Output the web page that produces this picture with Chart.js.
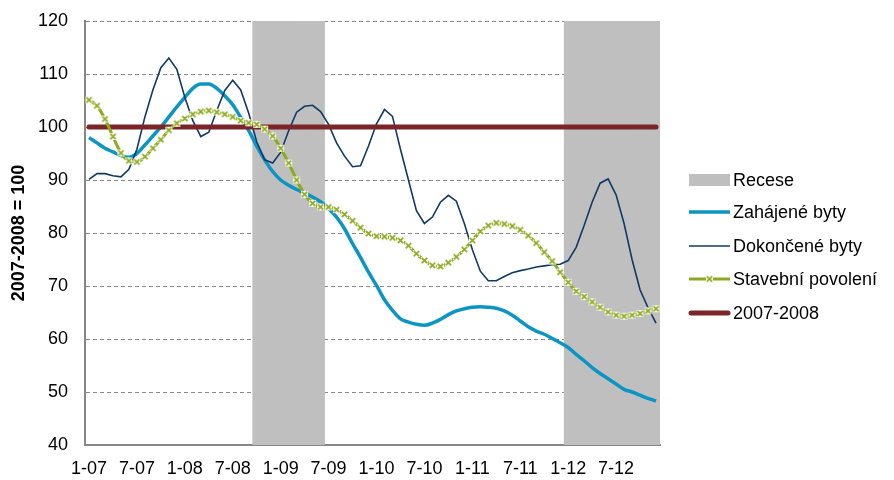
<!DOCTYPE html>
<html><head><meta charset="utf-8">
<script src="https://cdn.jsdelivr.net/npm/chart.js@4.4.1/dist/chart.umd.min.js"></script>
<style>html,body{margin:0;padding:0;background:#fff}#wrap{width:894px;height:480px;position:relative}</style>
</head><body><div id="wrap"><canvas id="c" width="894" height="480"></canvas></div>
<script>
// Categories: months 1-07 .. 12-12
const months = [
 '1-07','2-07','3-07','4-07','5-07','6-07','7-07','8-07','9-07','10-07','11-07','12-07',
 '1-08','2-08','3-08','4-08','5-08','6-08','7-08','8-08','9-08','10-08','11-08','12-08',
 '1-09','2-09','3-09','4-09','5-09','6-09','7-09','8-09','9-09','10-09','11-09','12-09',
 '1-10','2-10','3-10','4-10','5-10','6-10','7-10','8-10','9-10','10-10','11-10','12-10',
 '1-11','2-11','3-11','4-11','5-11','6-11','7-11','8-11','9-11','10-11','11-11','12-11',
 '1-12','2-12','3-12','4-12','5-12','6-12','7-12','8-12','9-12','10-12','11-12','12-12'
];
const tickLabels = ['1-07','7-07','1-08','7-08','1-09','7-09','1-10','7-10','1-11','7-11','1-12','7-12'];
const yTicks = [40,50,60,70,80,90,100,110,120];

// Series (index 2007-2008 = 100)
const zahajene = [
 98.0,97.0,96.0,95.3,94.6,94.3,95.0,96.6,98.3,100.0,101.9,103.8,
 105.6,107.3,108.1,108.1,107.3,105.9,104.2,101.8,99.3,96.4,93.8,91.6,
 90.0,89.0,88.2,87.5,86.8,85.9,84.6,83.0,80.8,78.0,75.4,72.6,
 70.1,67.4,65.4,63.8,63.2,62.8,62.6,63.0,63.7,64.6,65.3,65.7,
 66.0,66.1,66.0,65.8,65.3,64.5,63.4,62.3,61.5,60.9,60.1,59.3,
 58.4,57.1,55.9,54.6,53.5,52.5,51.5,50.5,50.0,49.4,48.8,48.3
];
const dokoncene = [
 90.1,91.2,91.2,90.8,90.6,92.0,95.8,101.9,107.0,111.2,113.0,110.9,
 105.6,101.2,98.2,99.0,103.1,106.9,108.8,107.0,102.6,97.2,93.8,93.2,
 95.2,99.3,102.8,103.9,104.1,102.9,100.5,97.0,94.5,92.5,92.7,96.4,
 100.6,103.3,102.0,95.8,90.0,84.2,81.8,83.0,85.8,87.1,86.0,81.8,
 76.9,72.8,71.0,71.0,71.8,72.5,72.9,73.2,73.6,73.8,74.0,74.1,
 74.8,77.3,81.4,85.8,89.4,90.2,87.2,81.8,75.0,69.3,65.9,63.0
];
const stavebni = [
 105.1,104.0,101.5,98.2,95.1,93.6,93.4,94.4,96.0,97.6,99.4,100.7,
 101.6,102.4,102.9,103.1,102.8,102.4,101.9,101.2,100.8,100.5,99.6,98.3,
 96.0,93.2,90.0,87.3,85.6,84.9,84.9,84.4,83.5,82.3,81.0,79.9,
 79.4,79.3,79.1,78.6,77.6,76.1,74.8,73.9,73.7,74.4,75.5,76.9,
 78.6,80.3,81.4,81.9,81.7,81.3,80.6,79.5,78.1,76.4,74.7,72.6,
 70.7,69.0,68.0,67.0,66.0,65.1,64.5,64.3,64.5,64.8,65.3,65.7
];
const referenceLevel = 100; // 2007-2008 average
const recessions = [['10-08','6-09'],['1-12','12-12']];

const FONT = '"Liberation Sans", Arial, sans-serif';
const C_REC = '#BFBFBF', C_ZAH = '#0B95C4', C_DOK = '#0F3A66', C_STAV = '#8DAA1E', C_REF = '#7B2529';

function inRecession(m){
  const i = months.indexOf(m);
  return recessions.some(([a,b]) => i >= months.indexOf(a) && i <= months.indexOf(b));
}
const recessionData = months.map(m => inRecession(m) ? [yTicks[0], yTicks[yTicks.length-1]] : null);
const refData = months.map(() => referenceLevel);

function makeMarker(){
  const c = document.createElement('canvas'); c.width = 9; c.height = 9;
  const g = c.getContext('2d');
  g.fillStyle = '#fff'; g.fillRect(1,1,7,7);
  g.strokeStyle = C_STAV; g.lineWidth = 1.7;
  g.beginPath(); g.moveTo(1.8,1.8); g.lineTo(7.2,7.2); g.moveTo(7.2,1.8); g.lineTo(1.8,7.2); g.stroke();
  return c;
}
const marker = makeMarker();

const legendItems = [
  {label:'Recese', type:'box', color:C_REC},
  {label:'Zahájené byty', type:'line', color:C_ZAH, width:3.5},
  {label:'Dokončené byty', type:'line', color:C_DOK, width:1.5},
  {label:'Stavební povolení', type:'line', color:C_STAV, width:3, marker:true},
  {label:'2007-2008', type:'line', color:C_REF, width:5, round:true}
];
const legendPlugin = {
  id:'customLegend',
  afterDraw(chart){
    const ctx = chart.ctx;
    const x0 = 689, x1 = 730, tx = 733;
    const ys = [180, 212, 246, 279, 313];
    ctx.save();
    ctx.font = '18px ' + FONT;
    ctx.fillStyle = '#000';
    ctx.textBaseline = 'middle';
    legendItems.forEach((it, k) => {
      const y = ys[k];
      if (it.type === 'box') {
        ctx.fillStyle = it.color; ctx.fillRect(x0, y-6, x1-x0, 12);
      } else {
        ctx.strokeStyle = it.color; ctx.lineWidth = it.width;
        ctx.lineCap = it.round ? 'round' : 'butt';
        ctx.beginPath(); ctx.moveTo(x0 + (it.round?2:0), y); ctx.lineTo(x1 - (it.round?2:0), y); ctx.stroke();
        if (it.marker) ctx.drawImage(marker, (x0+x1)/2 - 4.5, y - 4.5);
      }
      ctx.fillStyle = '#000';
      ctx.fillText(it.label, tx, y + 1);
    });
    ctx.restore();
  }
};

new Chart(document.getElementById('c'), {
  data: {
    labels: months,
    datasets: [
      {type:'bar', label:'Recese', data: recessionData, backgroundColor: C_REC, borderWidth:0,
       barPercentage:1, categoryPercentage:1, order:10},
      {type:'line', label:'Zahájené byty', data: zahajene, borderColor: C_ZAH, borderWidth:3.5,
       pointRadius:0, cubicInterpolationMode:'monotone', order:5},
      {type:'line', label:'Dokončené byty', data: dokoncene, borderColor: C_DOK, borderWidth:1.6,
       pointRadius:0, tension:0, order:4},
      {type:'line', label:'2007-2008', data: refData, borderColor: C_REF, borderWidth:5,
       borderCapStyle:'round', pointRadius:0, order:3},
      {type:'line', label:'Stavební povolení', data: stavebni, borderColor: C_STAV, borderWidth:3,
       cubicInterpolationMode:'monotone', pointStyle: marker, pointRadius:4, order:1}
    ]
  },
  options: {
    responsive:false, animation:false, devicePixelRatio:1,
    layout:{padding:{top:21, right:234, bottom:0, left:0}},
    plugins:{legend:{display:false}, tooltip:{enabled:false}},
    scales:{
      x:{
        type:'category', offset:true,
        grid:{display:false, drawTicks:false},
        border:{display:true, color:'#868686', width:2},
        ticks:{autoSkip:false, maxRotation:0, minRotation:0, padding:13, color:'#000',
               font:{family:FONT, size:18},
               callback:function(v,i){ const l = months[i]; return tickLabels.includes(l) ? l : ''; }},
        afterFit(s){ s.height = 35; s.paddingLeft = 0; s.paddingRight = 0; }
      },
      y:{
        min:yTicks[0], max:yTicks[yTicks.length-1],
        afterBuildTicks(s){ s.ticks = yTicks.map(v => ({value:v})); },
        grid:{color:'#8A8A8A', lineWidth:1, drawTicks:false},
        border:{display:true, color:'#868686', width:2, dash:[4,3]},
        ticks:{padding:17, color:'#000', font:{family:FONT, size:18}},
        title:{display:true, text:'2007-2008 = 100', color:'#000', padding:{top:8,bottom:0},
               font:{family:FONT, size:18, weight:'bold'}},
        afterFit(s){ s.width = 85; s.paddingTop = 0; s.paddingBottom = 0; }
      }
    }
  },
  plugins:[legendPlugin]
});
</script>
</body></html>
